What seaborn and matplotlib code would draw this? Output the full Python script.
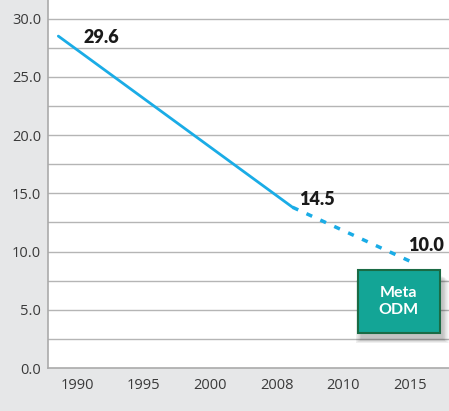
import pandas as pd
import seaborn as sns
import matplotlib.pyplot as plt
from matplotlib.patches import Rectangle

# --- data ---
year_labels = ['1990', '1995', '2000', '2008', '2010', '2015']
y_ticks = [0, 5, 10, 15, 20, 25, 30]

# line as drawn (category position, value)
solid_pos = [-0.28, 3.24]
solid_vals = [28.5, 13.8]
dashed_pos = [3.24, 5.03]
dashed_vals = [13.8, 9.1]

# printed labels
label_vals = [29.6, 14.5, 10.0]
label_pos = [0.37, 3.61, 5.24]

solid = pd.DataFrame({'pos': solid_pos, 'val': solid_vals})
dashed = pd.DataFrame({'pos': dashed_pos, 'val': dashed_vals})

sns.set_style('white')
plt.rcParams['font.family'] = ['Open Sans', 'DejaVu Sans']

fig = plt.figure(figsize=(4.49, 4.11), dpi=100, facecolor='#e6e7e8')
ax = fig.add_axes([48 / 449, 43 / 411, 1 - 48 / 449, 1 - 43 / 411])
ax.set_facecolor('white')

line_color = '#1aace6'
sns.lineplot(data=solid, x='pos', y='val', ax=ax, color=line_color, lw=2)
sns.lineplot(data=dashed, x='pos', y='val', ax=ax, color=line_color, lw=2.5,
             linestyle=(0, (1.8, 2.6)))

for p, v, lab_y in zip(label_pos, label_vals, [28.4, 14.5, 10.5]):
    ax.text(p, lab_y, f'{v:.1f}', fontsize=13, fontweight='heavy', color='#1a1a1a',
            ha='center', va='center', family=['Lato', 'DejaVu Sans'])

# grid every 2.5
for g in [x * 2.5 for x in range(1, 13)]:
    ax.axhline(g, color='#b5b5b5', lw=1, zorder=0)

ax.set_xlim(-0.435, 5.59)
ax.set_ylim(0, 31.6)
ax.set_xticks(range(len(year_labels)))
ax.set_xticklabels(year_labels)
ax.set_yticks(y_ticks)
ax.set_yticklabels([f'{t:.1f}' for t in y_ticks])
ax.tick_params(axis='both', labelsize=10.5, colors='#3a3a3a', length=0, pad=5)
ax.tick_params(axis='x', pad=7)
ax.set_xlabel('')
ax.set_ylabel('')

for s in ['top', 'right']:
    ax.spines[s].set_visible(False)
for s in ['left', 'bottom']:
    ax.spines[s].set_color('#aaaaaa')
    ax.spines[s].set_linewidth(1.2)

# Meta ODM box with soft shadow
bx, by, bw, bh = 4.22, 3.0, 1.23, 5.43
for i in range(8):
    grow = 0.012 * i
    ax.add_patch(Rectangle((bx + 0.05 - grow, by - 0.55 - grow * 4), bw + 2 * grow,
                           bh, facecolor='#000000', edgecolor='none', alpha=0.03,
                           zorder=3))
ax.add_patch(Rectangle((bx, by), bw, bh, facecolor='#13a596', edgecolor='#1a6b45',
                       lw=1.5, zorder=4))
ax.text(bx + bw / 2, by + bh / 2, 'Meta\nODM', color='white', fontsize=11.5,
        fontweight='bold', ha='center', va='center', linespacing=1.2, zorder=5,
        family=['Lato', 'DejaVu Sans'])

fig.savefig('out.png', dpi=100, facecolor=fig.get_facecolor())
